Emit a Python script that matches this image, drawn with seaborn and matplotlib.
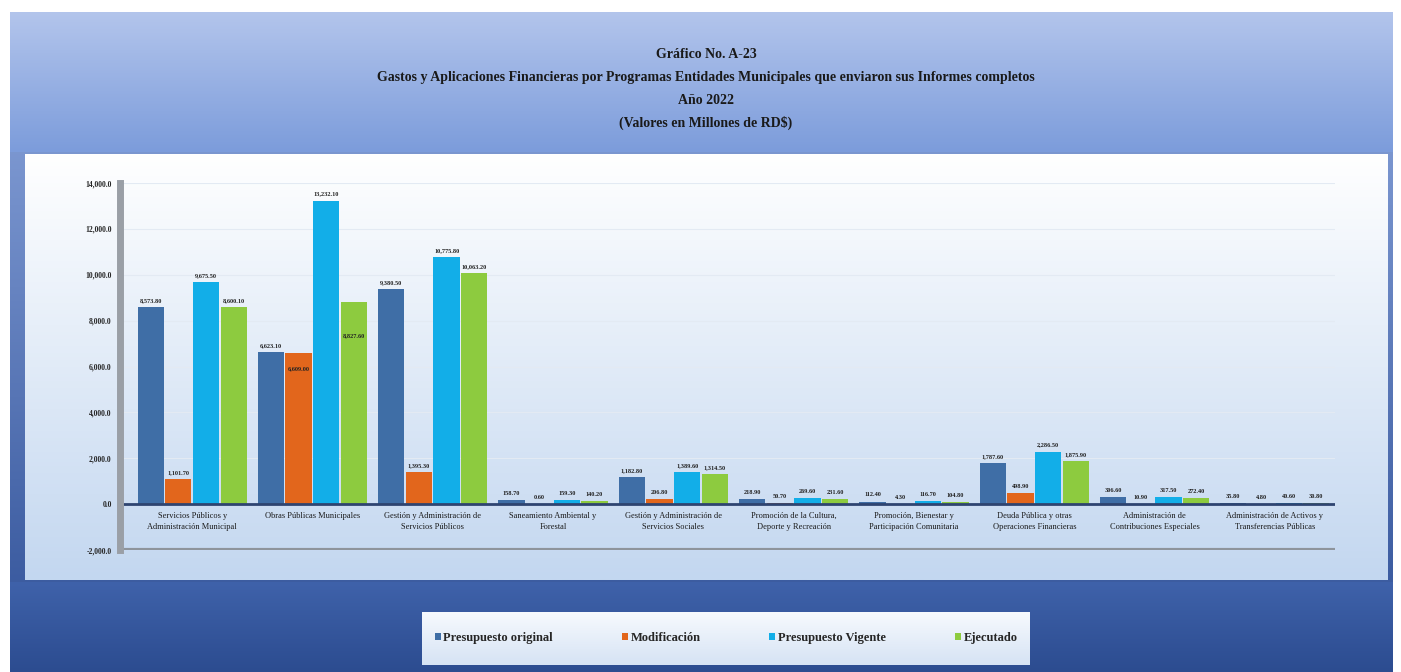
import textwrap
import numpy as np
import pandas as pd
import matplotlib
matplotlib.use("Agg")
import matplotlib.pyplot as plt
import seaborn as sns

# Datos (valores en millones de RD$)
programas = [
    "Servicios Públicos y Administración Municipal",
    "Obras Públicas Municipales",
    "Gestión y Administración de Servicios Públicos",
    "Saneamiento Ambiental y Forestal",
    "Gestión y Administración de Servicios Sociales",
    "Promoción de la Cultura, Deporte y Recreación",
    "Promoción, Bienestar y Participación Comunitaria",
    "Deuda Pública y otras Operaciones Financieras",
    "Administración de Contribuciones Especiales",
    "Administración de Activos y Transferencias Públicas",
]
presupuesto_original = [8573.8, 6623.1, 9380.5, 158.7, 1182.8, 218.9, 112.4, 1787.6, 306.6, 35.8]
modificacion = [1101.7, 6609.0, 1395.3, 0.6, 206.8, 50.7, 4.3, 498.9, 10.9, 4.8]
presupuesto_vigente = [9675.5, 13232.1, 10775.8, 159.3, 1389.6, 269.6, 116.7, 2286.5, 317.5, 40.6]
ejecutado = [8600.1, 8827.6, 10063.2, 140.2, 1314.5, 231.6, 104.8, 1875.9, 272.4, 30.8]

series = ["Presupuesto original", "Modificación", "Presupuesto Vigente", "Ejecutado"]
colores = ["#3F6EA6", "#E2661C", "#12AEE8", "#8DCB3F"]

df = pd.DataFrame({
    "Programa": programas * 4,
    "Serie": np.repeat(series, len(programas)),
    "Valor": presupuesto_original + modificacion + presupuesto_vigente + ejecutado,
})

sns.set_style("white")
plt.rcParams["font.family"] = ["Liberation Serif", "DejaVu Serif"]

W, H = 1401, 672
fig = plt.figure(figsize=(W / 100, H / 100), dpi=100)
fig.patch.set_facecolor("white")

# fondo con degradados (coordenadas en pixeles)
bg = fig.add_axes([0, 0, 1, 1], zorder=-5)
bg.axis("off")


def degradado(x0, x1, y0, y1, c_top, c_bot):
    cmap = matplotlib.colors.LinearSegmentedColormap.from_list("g", [c_top, c_bot])
    grad = np.linspace(0, 1, 256).reshape(-1, 1)
    bg.imshow(grad, cmap=cmap, extent=[x0, x1, y1, y0], aspect="auto", zorder=0)


degradado(10, 1393, 12, 672, "#8FA9DF", "#2F5097")
degradado(10, 1393, 12, 152, "#B3C5EC", "#7C9CDB")
degradado(25, 1388, 154, 580, "#FFFFFF", "#C3D7F0")
degradado(10, 1393, 582, 672, "#3F62AA", "#2C4C90")
degradado(422, 1030, 612, 665, "#F7FAFE", "#D6E3F4")
bg.set_xlim(0, W)
bg.set_ylim(H, 0)

# titulo
titulo = [
    "Gráfico No. A-23",
    "Gastos y Aplicaciones Financieras por Programas Entidades Municipales que enviaron sus Informes completos",
    "Año 2022",
    "(Valores en Millones de RD$)",
]
for i, linea in enumerate(titulo):
    fig.text(706 / W, 1 - (54 + i * 23) / H, linea, ha="center", va="center",
             fontsize=10, fontweight="bold", color="#1A1A1A")

# grafico principal
ax = fig.add_axes([120 / W, 1 - 550 / H, 1215 / W, 367 / H])
ax.patch.set_alpha(0)
sns.barplot(data=df, x="Programa", y="Valor", hue="Serie", palette=colores,
            saturation=1, width=0.92, gap=0.05, ax=ax, errorbar=None, linewidth=0)
handles, labels = ax.get_legend_handles_labels()
ax.legend_.remove()

ax.set_ylim(-2000, 14000)
ax.set_xlim(-0.6, 9.5)
ax.set_yticks(range(-2000, 14001, 2000))
ax.set_yticklabels([f"{v:,.1f}" for v in range(-2000, 14001, 2000)],
                   fontsize=5.5, fontweight="bold")
ax.tick_params(axis="y", length=0, pad=6)
ax.set_xticks([])
ax.set_xlabel("")
ax.set_ylabel("")
ax.yaxis.grid(True, color="#E3EAF3", lw=0.8)
ax.set_axisbelow(True)
for s in ["top", "right", "bottom"]:
    ax.spines[s].set_visible(False)
ax.spines["left"].set_color("#9A9FA6")
ax.spines["left"].set_linewidth(5)
ax.axhline(0, color="#2E4470", lw=2, zorder=1)
ax.axhline(-2000, color="#8E949C", lw=3, zorder=1)

# etiquetas de datos
dentro = {("Modificación", 1): 700, ("Ejecutado", 1): 1500}
for serie, cont in zip(series, ax.containers):
    for j, barra in enumerate(cont):
        h = barra.get_height()
        x = barra.get_x() + barra.get_width() / 2
        if (serie, j) in dentro:
            ax.text(x, h - dentro[(serie, j)], f"{h:,.2f}", ha="center", va="center",
                    fontsize=4.5, fontweight="bold", color="#222222")
        else:
            ax.text(x, h + 180, f"{h:,.2f}", ha="center", va="bottom",
                    fontsize=4.5, fontweight="bold", color="#222222")

# nombres de programas bajo el eje
for j, nombre in enumerate(programas):
    ax.text(j, -350, textwrap.fill(nombre, 30), ha="center", va="top",
            fontsize=6, color="#1A1A1A", linespacing=1.5)

# leyenda
fig.legend(handles, labels, loc="center", bbox_to_anchor=(726 / W, 1 - 638 / H),
           ncol=4, frameon=False, handlelength=0.5, handleheight=0.5,
           handletextpad=0.2, columnspacing=5.5, prop={"size": 9, "weight": "bold"})

fig.savefig("out.png", dpi=100, facecolor=fig.get_facecolor())
